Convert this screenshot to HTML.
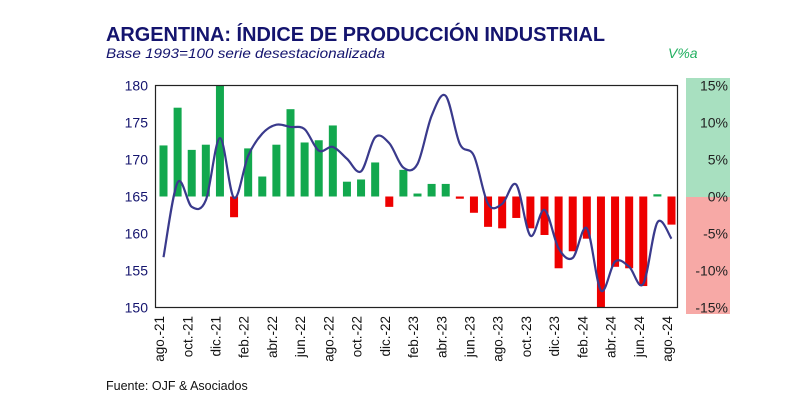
<!DOCTYPE html>
<html><head><meta charset="utf-8"><style>
body{margin:0;background:#fff;width:800px;height:412px;overflow:hidden;font-family:"Liberation Sans",sans-serif}
</style></head><body>
<svg id="chart" width="800" height="412" xmlns="http://www.w3.org/2000/svg" font-family="Liberation Sans, sans-serif">
<text x="106" y="41" font-size="20" font-weight="bold" fill="#14146e" textLength="499" lengthAdjust="spacingAndGlyphs">ARGENTINA: ÍNDICE DE PRODUCCIÓN INDUSTRIAL</text>
<text x="106" y="58" font-size="14" font-style="italic" fill="#14146e" textLength="279" lengthAdjust="spacingAndGlyphs">Base 1993=100 serie desestacionalizada</text>
<text x="668" y="58" font-size="14" font-style="italic" fill="#22b060">V%a</text>
<rect x="686" y="78" width="44" height="119" fill="#a8e0c0"/>
<rect x="686" y="197" width="44" height="117" fill="#f7a9a6"/>
<g id="left-ticks"></g><g id="right-ticks"></g>
<g id="bars"></g>
<path id="line" fill="none" stroke="#3a3a8c" stroke-width="2.2"/>
<rect x="155.5" y="85.5" width="522" height="222" fill="none" stroke="#222" stroke-width="1.2"/>
<g id="xlabels"></g>
<text x="106" y="390" font-size="12.5" fill="#111">Fuente: OJF &amp; Asociados</text>
</svg>
<script>
const months=["ago.-21","sep.-21","oct.-21","nov.-21","dic.-21","ene.-22","feb.-22","mar.-22","abr.-22","may.-22","jun.-22","jul.-22","ago.-22","sep.-22","oct.-22","nov.-22","dic.-22","ene.-23","feb.-23","mar.-23","abr.-23","may.-23","jun.-23","jul.-23","ago.-23","sep.-23","oct.-23","nov.-23","dic.-23","ene.-24","feb.-24","mar.-24","abr.-24","may.-24","jun.-24","jul.-24","ago.-24"];
const yoyPct=[6.9,12.0,6.3,7.0,15,-2.8,6.5,2.7,7.0,11.8,7.3,7.6,9.6,2.0,2.3,4.6,-1.4,3.6,0.4,1.7,1.7,-0.3,-2.2,-4.1,-4.3,-2.9,-4.3,-5.2,-9.7,-7.4,-5.7,-15,-9.5,-9.7,-12.1,0.3,-3.8];
const indexValues=[156.8,166.9,163.6,164.5,172.9,164.8,170.5,173.5,174.7,174.4,174.1,171.2,171.7,170.1,168.4,173.0,172.2,168.9,169.4,175.9,178.6,172.1,170.5,164.0,164.0,166.6,159.7,163.2,158.0,156.7,160.7,152.3,156.2,155.5,153.2,161.5,159.3];
const leftTicks=[150,155,160,165,170,175,180];
const rightTicks=[-15,-10,-5,0,5,10,15];
const NS="http://www.w3.org/2000/svg";
const yL=v=>85.5+(180-v)*222/30;
const yR=p=>85.5+(15-p)*222/30;
const xM=i=>163.5+i*(508/36);
function mk(tag,attrs,parent){const e=document.createElementNS(NS,tag);for(const k in attrs)e.setAttribute(k,attrs[k]);parent.appendChild(e);return e;}
const lt=document.getElementById('left-ticks');
leftTicks.forEach(v=>{const t=mk('text',{x:148,y:yL(v)+5,'text-anchor':'end','font-size':14,fill:'#14146e'},lt);


t.textContent=v;});
const rt=document.getElementById('right-ticks');
rightTicks.forEach(p=>{const t=mk('text',{x:728,y:yR(p)+5,'text-anchor':'end','font-size':14,fill:'#222'},rt);


t.textContent=p+'%';});
const bg=document.getElementById('bars');
yoyPct.forEach((p,i)=>{const y0=yR(0),y1=yR(p);const r=mk('rect',{x:xM(i)-4,y:Math.min(y0,y1),width:8,height:Math.max(Math.abs(y1-y0),1.5),fill:p>=0?'#12a84e':'#ee0000'},bg);

});
const pts=indexValues.map((v,i)=>[xM(i),yL(v)]);
let d='M'+pts[0][0]+','+pts[0][1];
for(let i=0;i<pts.length-1;i++){const p0=pts[i-1]||pts[i],p1=pts[i],p2=pts[i+1],p3=pts[i+2]||p2;
d+=' C'+(p1[0]+(p2[0]-p0[0])/6)+','+(p1[1]+(p2[1]-p0[1])/6)+' '+(p2[0]-(p3[0]-p1[0])/6)+','+(p2[1]-(p3[1]-p1[1])/6)+' '+p2[0]+','+p2[1];}
document.getElementById('line').setAttribute('d',d);
const xl=document.getElementById('xlabels');
months.forEach((m,i)=>{if(i%2)return;const x=xM(i)-3,y=316;
const t=mk('text',{x:x,y:y,transform:'rotate(-90 '+x+' '+y+')','text-anchor':'end','font-size':13.5,fill:'#111','dominant-baseline':'middle'},xl);


t.textContent=m;});
</script>
</body></html>
